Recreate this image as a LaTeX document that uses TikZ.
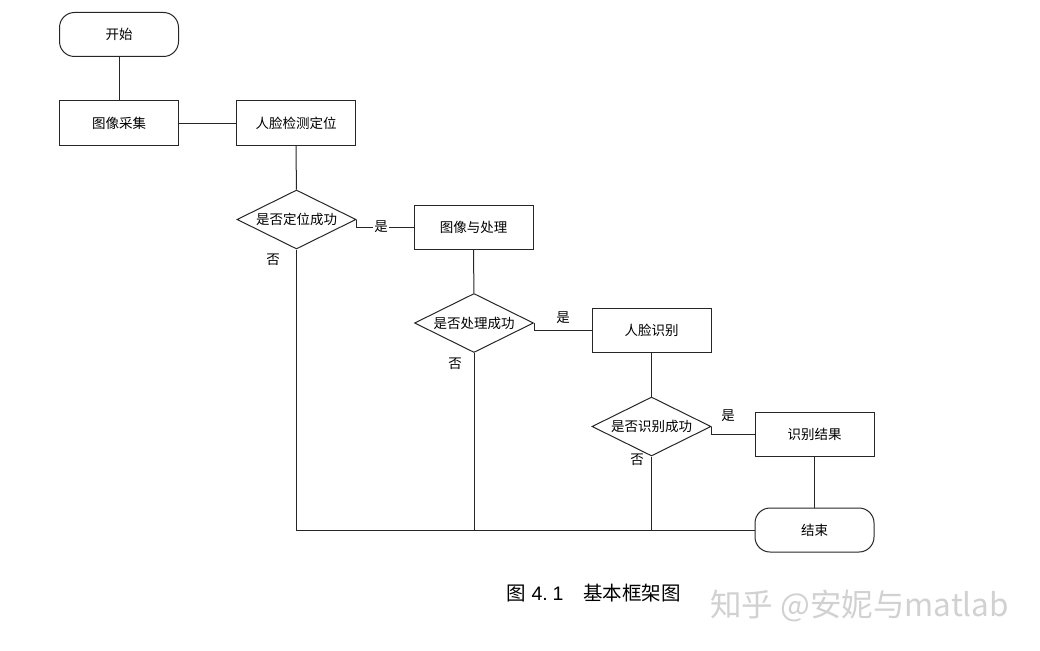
\documentclass[tikz,border=0pt]{standalone}
\usepackage{fontspec}
\setmainfont{Liberation Serif}
\newfontfamily\cjk{Noto Sans CJK SC}
\newfontfamily\arial{Liberation Sans}
\usetikzlibrary{shapes.geometric,calc}
\definecolor{ln}{gray}{0.15}
\definecolor{wm}{gray}{0.82}
\tikzset{
  proc/.style={draw=ln,line width=1pt,minimum width=119pt,minimum height=44pt,inner sep=0pt,font=\cjk\fontsize{13.5}{14}\selectfont},
  term/.style={proc,rounded corners=15pt},
  decision/.style={draw=ln,line width=1pt,diamond,minimum width=119pt,minimum height=59pt,inner sep=0pt,label={[font=\cjk\fontsize{13.5}{14}\selectfont,inner sep=0pt]center:#1}},
  conn/.style={draw=ln,line width=1pt},
  lab/.style={font=\cjk\fontsize{13.5}{14}\selectfont,inner sep=1pt}
}
\begin{document}
\begin{tikzpicture}[x=1pt,y=-1pt]
\useasboundingbox (0,0) rectangle (1040,650);
\node[term] (start) at (119,34.5) {开始};
\node[proc] (acq) at (119,123) {图像采集};
\node[proc] (det) at (296,123) {人脸检测定位};
\node[decision={是否定位成功}] (d1) at (296.5,219.5) {};
\node[proc] (pre) at (473.5,227) {图像与处理};
\node[decision={是否处理成功}] (d2) at (474,323) {};
\node[proc] (rec) at (651.5,330.5) {人脸识别};
\node[decision={是否识别成功}] (d3) at (651.5,426.5) {};
\node[proc] (res) at (814.5,434) {识别结果};
\node[term] (end) at (814.5,530) {结束};

\draw[conn] (start) -- (acq);
\draw[conn] (acq) -- (det);
\draw[conn] (det) -- (d1);
\draw[conn] (d1.east) |- (pre.west);
\draw[conn] (pre) -- (d2);
\draw[conn] (d2.east) |- (rec.west);
\draw[conn] (rec) -- (d3);
\draw[conn] (d3.east) |- (res.west);
\draw[conn] (res) -- (end);
\draw[conn] (d1.south) -- (d1.south |- end.west) -- (end.west);
\draw[conn] (d2.south) -- (d2.south |- end.west);
\draw[conn] (d3.south) -- (d3.south |- end.west);

\node[lab,fill=white] (y1) at (381,226.5) {是};
\node[lab] (n1) at (273,260) {否};
\node[lab] (y2) at (563,318) {是};
\node[lab] (n2) at (455,364) {否};
\node[lab] (y3) at (728,416) {是};
\node[lab] (n3) at (637,460) {否};

\node[font=\cjk\fontsize{19.5}{20}\selectfont,anchor=west,inner sep=0pt] (cap) at (506,593) {图\hspace{0.3em}{\arial 4.\hspace{0.25em}1}\hspace{1.0em}基本框架图};
\node[font=\cjk\fontsize{31.5}{33}\selectfont,text=wm,anchor=west,inner sep=0pt] (wmk) at (710,606) {知乎 @安妮与matlab};
\end{tikzpicture}
\end{document}
